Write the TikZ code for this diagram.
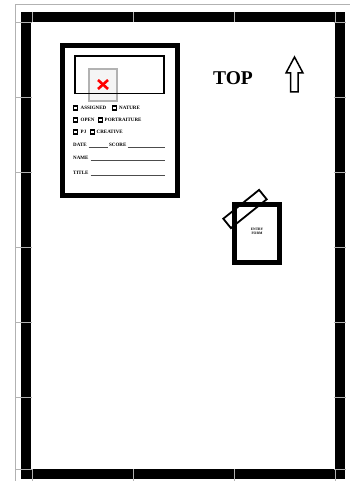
\documentclass[tikz,border=0pt]{standalone}
\usepackage{fontspec}
\setmainfont{Liberation Serif}
\begin{document}
\begin{tikzpicture}[x=1pt,y=-1pt,
  tick/.style={draw=gray!60,line width=0.5pt},
  frame/.style={draw=black,line width=10pt},
  card/.style={draw=black,line width=5pt},
  chk/.style={draw=black,fill=white,line width=1.5pt,minimum size=3.6pt,inner sep=0pt},
  lbl/.style={font=\bfseries\fontsize{5}{6}\selectfont,inner sep=0pt,anchor=west},
  uline/.style={draw=black!70,line width=0.45pt},
  tiny/.style={font=\bfseries\fontsize{3.6}{4.4}\selectfont,inner sep=0pt,align=center}]
\useasboundingbox (0,0) rectangle (350,481);
\fill[white] (0,0) rectangle (350,481);
% outer thin gray lines
\draw[gray!60,line width=1pt] (15,5) -- (350,5);
\draw[gray!60,line width=1pt] (15,5) -- (15,481);
% thick black frame
\draw[frame] (26,17) rectangle (340,474);
% faint tile ticks
\foreach \x in {32,133,234,335} {
  \draw[tick] (\x,12) -- (\x,22);
  \draw[tick] (\x,469) -- (\x,481);
}
\foreach \y in {22,97,172,247,322,397,469} {
  \draw[tick] (15,\y) -- (32,\y);
  \draw[tick] (334,\y) -- (346,\y);
}
% card
\draw[card] (62.5,45.5) rectangle (177.5,195.5);
\draw[draw=gray!60,fill=gray!8,line width=2pt] (89,69) rectangle (117,101);
\draw[red,line width=2.6pt] (98,80) -- (108,89);
\draw[red,line width=2.6pt] (98,89) -- (108,80);
\draw[line width=1.6pt] (75,56) rectangle (164,93.5);
% checkbox rows
\node[chk] (c1) at (75.5,108) {};
\node[lbl] (t1) at (80.5,108) {ASSIGNED};
\node[chk] (c2) at (114.5,108) {};
\node[lbl] (t2) at (119,108) {NATURE};
\node[chk] (c3) at (75.5,120) {};
\node[lbl] (t3) at (80.5,120) {OPEN};
\node[chk] (c4) at (100.5,120) {};
\node[lbl] (t4) at (104.5,120) {PORTRAITURE};
\node[chk] (c5) at (75.5,132) {};
\node[lbl] (t5) at (80.5,132) {PJ};
\node[chk] (c6) at (92.5,132) {};
\node[lbl] (t6) at (96.5,132) {CREATIVE};
% fill-in lines
\node[lbl] (date) at (73,145) {DATE};
\draw[uline] (88.5,147) -- (108,147);
\node[lbl] (score) at (109,145) {SCORE};
\draw[uline] (127.5,147) -- (165,147);
\node[lbl] (name) at (73,158) {NAME};
\draw[uline] (90.5,160) -- (165,160);
\node[lbl] (title) at (73,173) {TITLE};
\draw[uline] (90.5,175) -- (165,175);
% TOP and arrow
\node[font=\bfseries\fontsize{19.5}{22}\selectfont,inner sep=0pt] (top) at (233,78) {TOP};
\draw[line width=1.5pt,line join=miter] (294.5,57) -- (303,73) -- (298,73) -- (298,92) -- (290.5,92) -- (290.5,73) -- (286,73) -- cycle;
% entry form
\draw[line width=1.8pt] (223.3,218.7) -- (230.9,228.1) -- (266.7,199.3) -- (259.1,189.9) -- cycle;
\draw[card] (234.5,204.5) rectangle (279.5,262.5);
\node[tiny] (entry) at (257,231.5) {ENTRY\\FORM};
\end{tikzpicture}
\end{document}
